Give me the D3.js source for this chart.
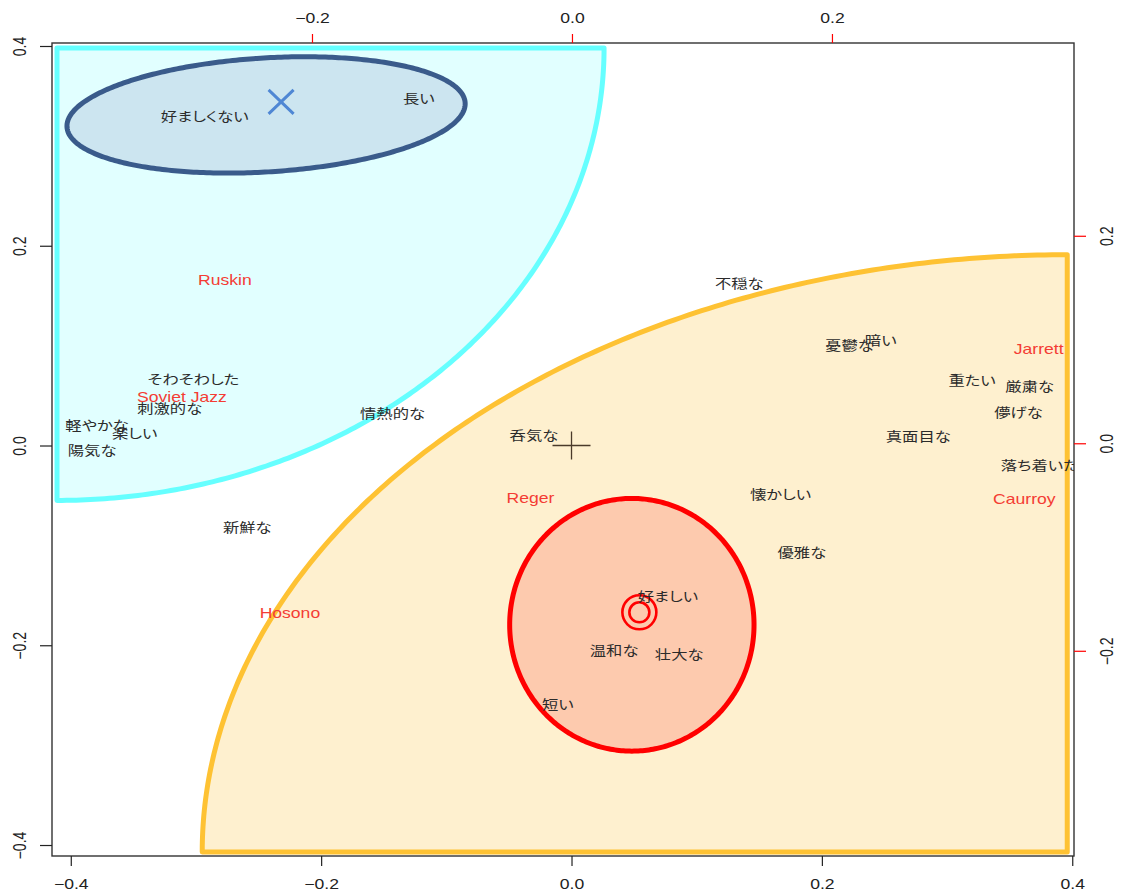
<!DOCTYPE html>
<html>
<head>
<meta charset="utf-8">
<script src="https://cdn.jsdelivr.net/npm/d3@7"></script>
<style>
body { margin: 0; background: #fff; }
text { font-family: "Liberation Sans", Arial, "Noto Sans CJK JP", sans-serif; }
.jp { font-family: "Noto Sans CJK JP", "Liberation Sans", sans-serif; font-feature-settings: "palt" 1; }
</style>
</head>
<body>
<svg id="chart" width="1121" height="894"></svg>
<script>
// impression words (row points, bottom / left axes)
var wordLabels = ['好ましくない','長い','そわそわした','刺激的な','軽やかな','楽しい','陽気な','情熱的な','新鮮な',
                  '不穏な','憂鬱な','暗い','重たい','厳粛な','儚げな','真面目な','呑気な','落ち着いた',
                  '懐かしい','優雅な','好ましい','温和な','壮大な','短い'];
var wordX = [-0.293,-0.122,-0.302,-0.321,-0.379,-0.349,-0.383,-0.143,-0.259,
              0.134, 0.222, 0.247, 0.320, 0.366, 0.357, 0.277,-0.030, 0.374,
              0.167, 0.184, 0.077, 0.034, 0.086,-0.011];
var wordY = [ 0.330, 0.348, 0.066, 0.037, 0.020, 0.012,-0.005, 0.032,-0.082,
              0.162, 0.100, 0.105, 0.065, 0.059, 0.033, 0.009, 0.010,-0.020,
             -0.049,-0.107,-0.151,-0.205,-0.209,-0.259];

// pieces (column points, top / right axes)
var pieceLabels = ['Ruskin','Soviet Jazz','Jarrett','Reger','Caurroy','Hosono'];
var pieceX = [-0.267,-0.300, 0.359,-0.032, 0.348,-0.217];
var pieceY = [ 0.157, 0.045, 0.091,-0.053,-0.054,-0.164];

var xTicks = [-0.4,-0.2,0.0,0.2,0.4];
var yTicks = [-0.4,-0.2,0.0,0.2,0.4];
var x2Ticks = [-0.2,0.0,0.2];
var y2Ticks = [-0.2,0.0,0.2];

// highlighted zones: quarter ellipses anchored on a corner
var zoneNames = ['light','dark'];
var zoneCX = [-0.411, 0.396];
var zoneCY = [ 0.398,-0.407];
var zoneRX = [ 0.437, 0.691];
var zoneRY = [ 0.453, 0.598];
var zoneFrom = [0, 90];     // degrees
var zoneTo   = [-90, 180];

// 'dislike' ellipse and 'like' circle
var dislikeEllipse = [-0.244, 0.331, 0.1595, 0.057, 4.6]; // cx, cy, rx, ry, rotation deg
var likeCircle = [0.0482, -0.1795, 0.0976, 0.1265];
var dislikeCentre = [-0.232, 0.344];
var likeCentre = [0.0542, -0.167];

//-------------------------------------------------------------------------------

var W = 1121, H = 894;
var box = { left: 52, right: 1074, top: 43, bottom: 856 };
var stretch = 1.255; // picture is wider than tall

var x  = d3.scaleLinear().domain([-0.415, 0.4014]).range([box.left, box.right]);
var y  = d3.scaleLinear().domain([-0.411, 0.403]).range([box.bottom, box.top]);
var x2 = d3.scaleLinear().domain([-0.4, 0.3862]).range([box.left, box.right]);
var y2 = d3.scaleLinear().domain([-0.3978, 0.3858]).range([box.bottom, box.top]);

var svg = d3.select('#chart');

svg.append('defs').append('clipPath').attr('id','plotclip')
    .append('rect')
    .attr('x', box.left).attr('y', box.top)
    .attr('width', box.right - box.left).attr('height', box.bottom - box.top);

var gPlot = svg.append('g').attr('clip-path','url(#plotclip)');

//-------------------------------------------------------------------------------
// zones

function ZonePoints(i) {
    var pts = [[zoneCX[i], zoneCY[i]]];
    var a0 = zoneFrom[i] * Math.PI / 180, a1 = zoneTo[i] * Math.PI / 180;
    d3.range(0, 181).forEach(function(k) {
        var a = a0 + (a1 - a0) * k / 180;
        pts.push([zoneCX[i] + zoneRX[i] * Math.cos(a), zoneCY[i] + zoneRY[i] * Math.sin(a)]);
    });
    return pts;
}

var line = d3.line().x(d => x(d[0])).y(d => y(d[1])).curve(d3.curveLinearClosed);

var zoneFill = { light: '#e1ffff', dark: '#fef0cf' };
var zoneStroke = { light: '#66ffff', dark: '#fec233' };

gPlot.selectAll('path.zone')
    .data(zoneNames)
    .join('path')
    .attr('class','zone')
    .attr('d', (d,i) => line(ZonePoints(i)))
    .attr('fill', d => zoneFill[d])
    .attr('stroke', d => zoneStroke[d])
    .attr('stroke-width', 5)
    .attr('stroke-linejoin','round');

// dislike ellipse
function EllipsePoints(cx, cy, rx, ry, rotDeg) {
    var th = rotDeg * Math.PI / 180;
    return d3.range(0, 360).map(function(k) {
        var t = k * Math.PI / 180;
        return [cx + rx * Math.cos(t) * Math.cos(th) - ry * Math.sin(t) * Math.sin(th),
                cy + rx * Math.cos(t) * Math.sin(th) + ry * Math.sin(t) * Math.cos(th)];
    });
}

gPlot.append('path')
    .attr('d', line(EllipsePoints.apply(null, dislikeEllipse)))
    .attr('fill','#cce5f0')
    .attr('stroke','#3a5b8b')
    .attr('stroke-width',5);

gPlot.append('path')
    .attr('d', line(EllipsePoints(likeCircle[0], likeCircle[1], likeCircle[2], likeCircle[3], 0)))
    .attr('fill','#fdcaae')
    .attr('stroke','#ff0000')
    .attr('stroke-width',5);

//-------------------------------------------------------------------------------
// markers

// origin cross
gPlot.append('path')
    .attr('d', 'M' + (x(0) - 19) + ',' + y(0) + 'H' + (x(0) + 19) +
               'M' + x(0) + ',' + (y(0) - 14) + 'V' + (y(0) + 14))
    .attr('stroke','#4a3a2a').attr('stroke-width',1.3).attr('fill','none');

// X for dislike centre
var dx = x(dislikeCentre[0]), dy = y(dislikeCentre[1]);
gPlot.append('path')
    .attr('d', 'M' + (dx - 12.5) + ',' + (dy - 12) + 'L' + (dx + 12.5) + ',' + (dy + 12) +
               'M' + (dx - 12.5) + ',' + (dy + 12) + 'L' + (dx + 12.5) + ',' + (dy - 12))
    .attr('stroke','#4f87d4').attr('stroke-width',3).attr('fill','none');

// double circle for like centre
gPlot.selectAll('circle.like')
    .data([17, 10])
    .join('circle')
    .attr('class','like')
    .attr('cx', x(likeCentre[0])).attr('cy', y(likeCentre[1]))
    .attr('r', d => d)
    .attr('fill','none').attr('stroke','#ff0000').attr('stroke-width',2.6);

//-------------------------------------------------------------------------------
// labels

gPlot.selectAll('text.word')
    .data(wordLabels)
    .join('text')
    .attr('class','word jp')
    .attr('transform', (d,i) => 'translate(' + x(wordX[i]) + ',' + y(wordY[i]) + ') scale(' + stretch + ',1)')
    .attr('text-anchor','middle')
    .attr('dy','0.36em')
    .attr('font-size', 13)
    .attr('fill','#2b2b2b')
    .text(d => d);

gPlot.selectAll('text.piece')
    .data(pieceLabels)
    .join('text')
    .attr('class','piece')
    .attr('transform', (d,i) => 'translate(' + x2(pieceX[i]) + ',' + y2(pieceY[i]) + ') scale(' + stretch + ',1)')
    .attr('text-anchor','middle')
    .attr('dy','0.36em')
    .attr('font-size', 14)
    .attr('fill','#f43c34')
    .text(d => d);

//-------------------------------------------------------------------------------
// frame and axes

svg.append('rect')
    .attr('x', box.left).attr('y', box.top)
    .attr('width', box.right - box.left).attr('height', box.bottom - box.top)
    .attr('fill','none').attr('stroke','#333').attr('stroke-width',1.4);

var fmt = d3.format('.1f');

function StyleAxis(g, tickColour) {
    g.select('.domain').remove();
    g.selectAll('.tick line').attr('stroke', tickColour).attr('stroke-width', 1.2);
    g.selectAll('.tick text').attr('fill','#222').attr('font-size', 14)
        .attr('font-family','"Liberation Sans", Arial, sans-serif');
}

var gBottom = svg.append('g').attr('transform','translate(0,' + box.bottom + ')')
    .call(d3.axisBottom(x).tickValues(xTicks).tickFormat(fmt).tickSize(10));
StyleAxis(gBottom, '#222');
gBottom.selectAll('.tick text').attr('y', null).attr('dy', null)
    .attr('transform','translate(0,33) scale(' + stretch + ',1)');

var gTop = svg.append('g').attr('transform','translate(0,' + box.top + ')')
    .call(d3.axisTop(x2).tickValues(x2Ticks).tickFormat(fmt).tickSize(9));
StyleAxis(gTop, '#ff0000');
gTop.selectAll('.tick text').attr('y', null).attr('dy', null)
    .attr('transform','translate(0,-20) scale(' + stretch + ',1)');

var gLeft = svg.append('g').attr('transform','translate(' + box.left + ',0)')
    .call(d3.axisLeft(y).tickValues(yTicks).tickFormat(fmt).tickSize(12));
StyleAxis(gLeft, '#222');
gLeft.selectAll('.tick text').attr('x', null).attr('dy', null)
    .attr('text-anchor','middle')
    .attr('transform','translate(-26,0) scale(' + stretch + ',1) rotate(-90)');

var gRight = svg.append('g').attr('transform','translate(' + box.right + ',0)')
    .call(d3.axisRight(y2).tickValues(y2Ticks).tickFormat(fmt).tickSize(12));
StyleAxis(gRight, '#ff0000');
gRight.selectAll('.tick text').attr('x', null).attr('dy', null)
    .attr('text-anchor','middle')
    .attr('transform','translate(39,0) scale(' + stretch + ',1) rotate(-90)');
</script>
</body>
</html>
